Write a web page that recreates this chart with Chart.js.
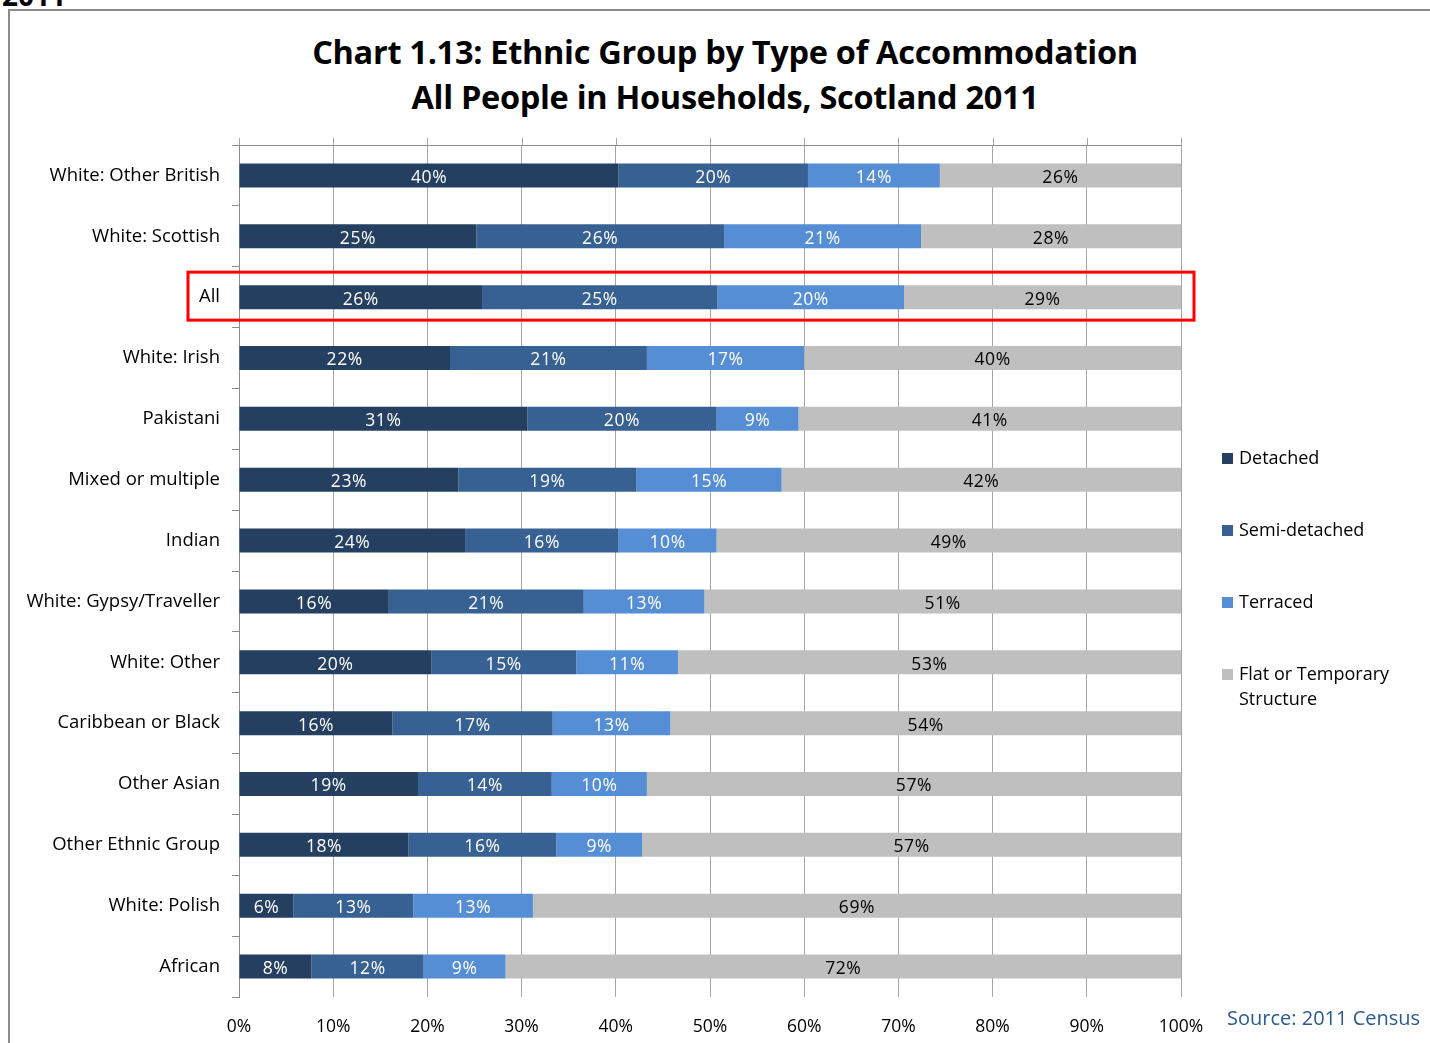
<!DOCTYPE html>
<html>
<head>
<meta charset="utf-8">
<script src="https://cdn.jsdelivr.net/npm/chart.js@4"></script>
<style>
  html, body { margin:0; padding:0; background:#fff; width:1430px; height:1043px; overflow:hidden; font-family:"Open Sans", "Noto Sans", sans-serif; }
  #frame { position:absolute; left:8px; top:9px; width:1440px; height:1100px; border-left:2px solid #8c8c8c; border-top:2px solid #8c8c8c; }
  #cut { position:absolute; left:2px; top:-24px; font-weight:bold; font-size:28px; color:#000; }
  #title { position:absolute; left:0; width:1450px; top:29px; text-align:center; font-weight:bold; font-size:32.5px; line-height:45px; color:#000; letter-spacing:-0.3px; }
  #chartwrap { position:absolute; left:0; top:0; width:1430px; height:1043px; }
  #legend { position:absolute; left:1222px; top:0; font-size:18px; color:#000; }
  .li { position:absolute; left:0; white-space:nowrap; line-height:25px; }
  .sw { display:inline-block; width:11px; height:11px; margin-right:6px; vertical-align:0px; }
  .lt { display:inline-block; vertical-align:top; }
  #source { position:absolute; left:1227px; top:1004px; font-size:20px; color:#2A5B8C; white-space:nowrap; }
</style>
</head>
<body>
<div id="cut">2011</div>
<div id="frame"></div>
<div id="title">Chart 1.13: Ethnic Group by Type of Accommodation<br>All People in Households, Scotland 2011</div>
<div id="chartwrap"><canvas id="c" width="1430" height="1043"></canvas></div>
<div id="legend"></div>
<div id="source">Source: 2011 Census</div>
<script>
const categories = ["White: Other British","White: Scottish","All","White: Irish","Pakistani","Mixed or multiple","Indian","White: Gypsy/Traveller","White: Other","Caribbean or Black","Other Asian","Other Ethnic Group","White: Polish","African"];
const seriesNames = ["Detached","Semi-detached","Terraced","Flat or Temporary Structure"];
const detached     = [40.3, 25.2, 25.8, 22.4, 30.6, 23.3, 24.0, 15.9, 20.4, 16.3, 19.0, 18.0, 5.8, 7.7];
const semiDetached = [20.1, 26.3, 25.0, 20.9, 20.1, 18.9, 16.3, 20.7, 15.4, 17.0, 14.2, 15.7, 12.7, 11.9];
const terraced     = [14.0, 20.9, 19.8, 16.7, 8.7, 15.4, 10.4, 12.8, 10.8, 12.5, 10.1, 9.1, 12.7, 8.7];
const flat         = [25.6, 27.6, 29.4, 40.0, 40.6, 42.4, 49.3, 50.6, 53.4, 54.2, 56.7, 57.2, 68.8, 71.7];
const xTickLabels = ["0%","10%","20%","30%","40%","50%","60%","70%","80%","90%","100%"];
const highlighted = "All";

const colors = ["#253F60","#376093","#558ED5","#BFBFBF"];
const labelColors = ["#ffffff","#ffffff","#ffffff","#000000"];
const seriesData = [detached, semiDetached, terraced, flat];

const legendTops = [445, 517, 589, 661];
const lg = document.getElementById('legend');
seriesNames.forEach((n,i)=>{
  const d = document.createElement('div');
  d.className = 'li';
  d.style.top = legendTops[i] + 'px';
  const txt = n === "Flat or Temporary Structure" ? "Flat or Temporary<br>Structure" : n;
  d.innerHTML = '<span class="sw" style="background:'+colors[i]+'"></span><span class="lt">'+txt+'</span>';
  lg.appendChild(d);
});

const FONT = '"Open Sans", "Noto Sans", sans-serif';

const labelPlugin = {
  id:'barLabels',
  afterDatasetsDraw(chart){
    const ctx = chart.ctx;
    ctx.save();
    ctx.font = '17.5px ' + FONT;
    ctx.textAlign = 'center';
    ctx.textBaseline = 'middle';
    try { ctx.letterSpacing = '0.6px'; } catch(e) {}
    chart.data.datasets.forEach((ds, di)=>{
      const meta = chart.getDatasetMeta(di);
      meta.data.forEach((el, i)=>{
        const v = ds.data[i];
        const cx = (el.x + el.base)/2;
        ctx.fillStyle = labelColors[di];
        ctx.fillText(Math.round(v) + '%', cx, el.y + 2.5);
      });
    });
    try { ctx.letterSpacing = '0px'; } catch(e) {}
    const a = chart.chartArea;
    const xs = chart.scales.x;
    ctx.strokeStyle = '#A6A6A6';
    ctx.lineWidth = 1;
    xs.ticks.forEach((t)=>{
      const px = Math.round(xs.getPixelForValue(t.value)) + 0.5;
      ctx.beginPath(); ctx.moveTo(px, a.top - 7); ctx.lineTo(px, a.top); ctx.stroke();
    });
    ctx.strokeStyle = '#8c8c8c';
    ctx.beginPath();
    ctx.moveTo(a.left - 7, a.top + 0.5);
    ctx.lineTo(a.right, a.top + 0.5);
    ctx.stroke();
    const y = chart.scales.y.getPixelForValue(categories.indexOf(highlighted));
    ctx.strokeStyle = '#FF0000';
    ctx.lineWidth = 3;
    ctx.strokeRect(188, y - 25, a.right + 13 - 188, 48);
    ctx.restore();
  }
};

new Chart(document.getElementById('c'), {
  type:'bar',
  data:{
    labels: categories,
    datasets: seriesNames.map((n,i)=>({
      label:n, data:seriesData[i], backgroundColor:colors[i], borderWidth:0,
      barPercentage:0.394, categoryPercentage:1.0
    }))
  },
  options:{
    indexAxis:'y',
    responsive:false,
    animation:false,
    layout:{ padding:{ top:145, right:249, bottom:0, left:0 } },
    plugins:{ legend:{display:false}, title:{display:false}, tooltip:{enabled:false} },
    scales:{
      x:{
        stacked:true, min:0, max:100,
        afterFit(s){ s.height = 46; },
        grid:{ color:'#A6A6A6', lineWidth:1, drawTicks:false },
        border:{ display:false },
        ticks:{ stepSize:10, padding:20, color:'#000', font:{ size:17.5, family:FONT },
          callback:(v,i)=>xTickLabels[i] }
      },
      y:{
        stacked:true,
        afterFit(s){ s.width = 239; },
        grid:{ offset:true, drawOnChartArea:false, tickLength:7, tickColor:'#8c8c8c' },
        border:{ display:true, color:'#8c8c8c', width:1 },
        ticks:{ padding:12, color:'#000', font:{ size:18.5, family:FONT } }
      }
    }
  },
  plugins:[labelPlugin]
});
</script>
</body>
</html>
